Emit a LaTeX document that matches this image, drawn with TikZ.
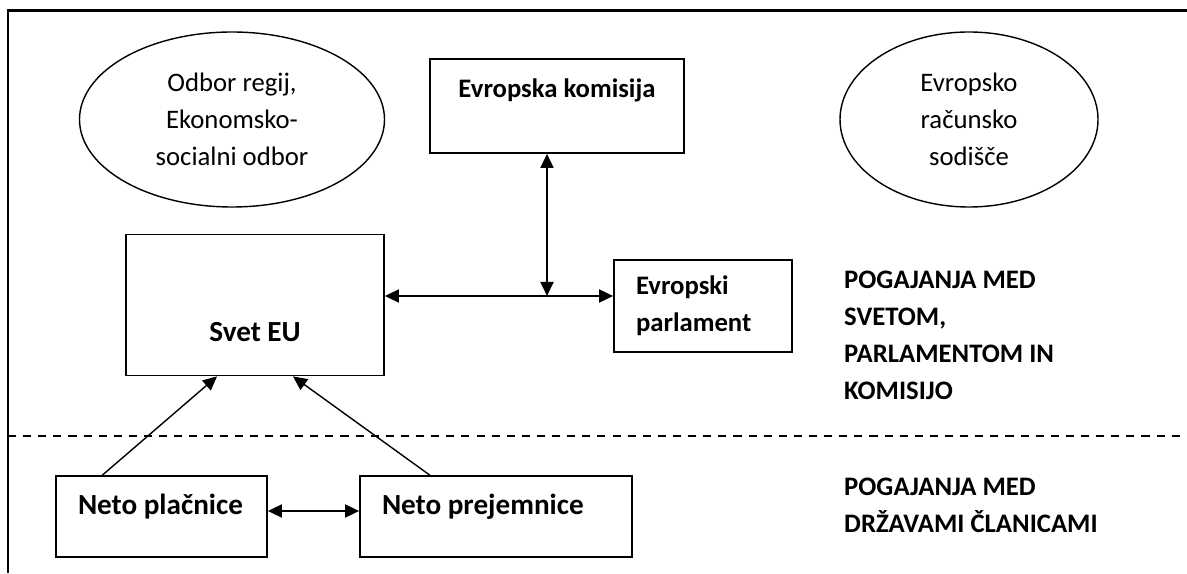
\documentclass[tikz,border=0pt]{standalone}
\usepackage{fontspec}
\setmainfont{Carlito}
\usepackage{tikz}
\usetikzlibrary{arrows.meta,shapes,positioning}
\newcommand{\diagfont}{\fontsize{15.2}{21}\selectfont}
\newcommand{\bigdiagfont}{\fontsize{16.6}{21}\selectfont}
\tikzstyle{twoway} = [line width=1.1pt,{Triangle[length=8pt,width=7.4pt]}-{Triangle[length=8pt,width=7.4pt]}]
\tikzstyle{oneway} = [line width=0.8pt,-{Triangle[length=8pt,width=7.4pt]}]
\tikzstyle{body} = [ellipse, draw, line width=0.8pt, inner sep=0pt, minimum height=3.5cm, align=center]
\tikzstyle{institution} = [rectangle, draw, line width=1pt, font=\diagfont\bfseries]
\tikzstyle{member} = [institution, font=\bigdiagfont\bfseries, align=flush left, inner xsep=0.44cm, minimum height=1.62cm, text height=0.4cm, text depth=0.48cm]
\tikzstyle{level} = [font=\diagfont\bfseries, align=left, anchor=base west]

\begin{document}
\begin{tikzpicture}[font=\diagfont]
\useasboundingbox (0,0) rectangle (23.74,11.46);
% frame and divider
\draw[line width=1.7pt] (0.16,0) -- (0.16,11.24) -- (23.74,11.24);
\draw[line width=0.85pt, dash pattern=on 4.6pt off 4pt] (0.16,2.74) -- (23.74,2.74);

% advisory bodies
\node (odbor) [body, minimum width=6.1cm] at (4.64,9.07) {Odbor regij,\\Ekonomsko-\\socialni odbor};
\node (racunsko) [body, minimum width=5.16cm] at (19.38,9.07) {Evropsko\\računsko\\sodišče};

% institutions
\node (komisija) [institution, minimum width=5.08cm, minimum height=1.88cm, text height=0.38cm, text depth=0.73cm] at (11.14,9.34) {Evropska komisija};
\node (svet) [institution, font=\bigdiagfont\bfseries, minimum width=5.16cm, minimum height=2.82cm, text height=1.45cm, text depth=0pt] at (5.10,5.36) {Svet EU};
\node (parlament) [institution, align=flush left, inner xsep=0.44cm, text width=2.68cm, minimum height=1.84cm] at (14.06,5.34) {Evropski\\parlament};
\coordinate (hub) at (10.94,5.54);

% member states
\node (placnice) [member, text width=3.34cm] at (3.23,1.13) {Neto plačnice};
\node (prejemnice) [member, text width=4.56cm] at (9.92,1.13) {Neto prejemnice};

% negotiation levels (base = last line)
\node (visja) [level] at (16.76,3.47) {POGAJANJA MED\\SVETOM,\\PARLAMENTOM IN\\KOMISIJO};
\node (nizja) [level] at (16.76,0.82) {POGAJANJA MED\\DRŽAVAMI ČLANICAMI};

% negotiations
\draw[twoway] (svet.east |- hub) -- (parlament.west |- hub);
\draw[twoway] (komisija.south -| hub) -- (hub);
\draw[twoway] ([yshift=0.11cm]placnice.east) -- ([yshift=0.11cm]prejemnice.west);
\draw[oneway] (placnice.145) -- (svet.242);
\draw[oneway] (prejemnice.148) -- (svet.298);
\end{tikzpicture}
\end{document}
